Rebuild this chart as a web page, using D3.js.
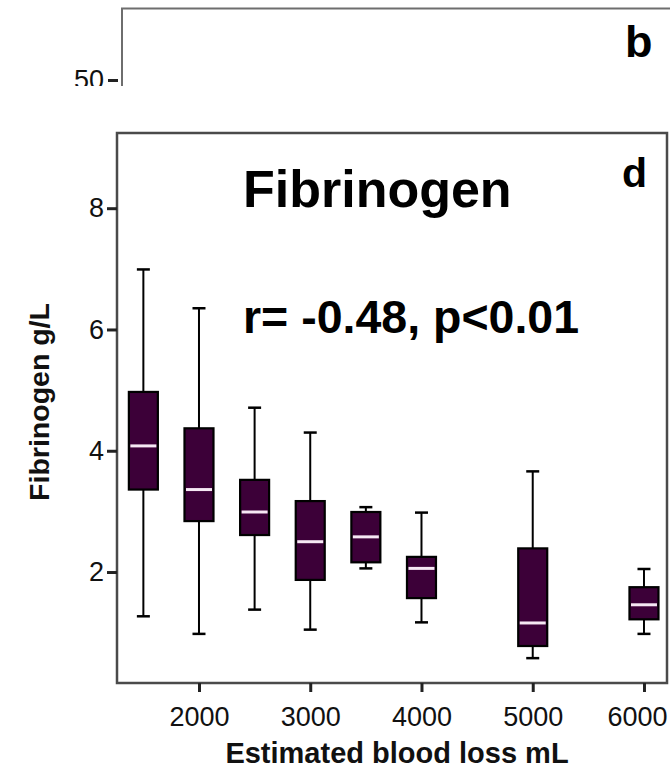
<!DOCTYPE html>
<html>
<head>
<meta charset="utf-8">
<script src="https://cdn.jsdelivr.net/npm/d3@7"></script>
<style>
  html, body { margin: 0; padding: 0; background: #fff; }
  svg { display: block; }
  text { font-family: "Liberation Sans", Arial, Helvetica, sans-serif; }
</style>
</head>
<body>
<svg id="chart" width="670" height="774"></svg>
<script>
// ---- data ----
const categories   = [1500, 2000, 2500, 3000, 3500, 4000, 5000, 6000];
const whiskerLow   = [1.27, 0.98, 1.38, 1.05, 2.06, 1.17, 0.58, 0.98];
const q1           = [3.36, 2.84, 2.61, 1.87, 2.16, 1.57, 0.78, 1.22];
const medians      = [4.08, 3.36, 2.99, 2.50, 2.58, 2.06, 1.16, 1.46];
const q3           = [4.97, 4.37, 3.52, 3.17, 2.99, 2.25, 2.39, 1.75];
const whiskerHigh  = [6.99, 6.35, 4.71, 4.30, 3.07, 2.98, 3.66, 2.05];
const xTicks       = [2000, 3000, 4000, 5000, 6000];
const yTicks       = [2, 4, 6, 8];
const topPanelTick = [50];

const titleText = "Fibrinogen";
const statText  = "r= -0.48, p<0.01";
const xLabel    = "Estimated blood loss mL";
const yLabel    = "Fibrinogen g/L";

// ---- layout ----
const svg = d3.select("#chart");
const L = 117, R = 667, T = 133, B = 683;

const x = d3.scaleLinear().domain([1263, 6207]).range([L, R]);
const y = d3.scaleLinear().domain([0.17, 9.24]).range([B, T]);

// ---- top (cropped) panel b ----
svg.append("clipPath").attr("id", "clipTop")
  .append("rect").attr("x", 0).attr("y", 0).attr("width", 670).attr("height", 86);
const topPanel = svg.append("g").attr("clip-path", "url(#clipTop)");
const yTop = d3.scaleLinear().domain([50, 60]).range([80, -40]);
topPanel.append("path")
  .attr("d", `M122,120 V8.5 H670`)
  .attr("fill", "none").attr("stroke", "#6e6e6e").attr("stroke-width", 2);
const topAxis = topPanel.append("g").attr("transform", "translate(118,0)")
  .call(d3.axisLeft(yTop).tickValues(topPanelTick).tickSize(10).tickPadding(4));
topAxis.select(".domain").remove();
topAxis.selectAll("line").attr("stroke", "#222").attr("stroke-width", 3);
topAxis.selectAll("text").attr("font-size", 27).attr("fill", "#111");
topPanel.append("text").attr("x", 625).attr("y", 57)
  .attr("font-size", 45).attr("font-weight", "bold").attr("fill", "#000").text("b");

// ---- panel d frame ----
svg.append("rect").attr("x", L).attr("y", T).attr("width", R - L).attr("height", B - T)
  .attr("fill", "none").attr("stroke", "#4a4a4a").attr("stroke-width", 2.5);

// axes
const yAxis = svg.append("g").attr("transform", `translate(${L},0)`)
  .call(d3.axisLeft(y).tickValues(yTicks).tickSize(10).tickPadding(3));
yAxis.select(".domain").remove();
yAxis.selectAll("line").attr("stroke", "#222").attr("stroke-width", 3);
yAxis.selectAll("text").attr("font-size", 27).attr("fill", "#111");

const xAxis = svg.append("g").attr("transform", `translate(0,${B})`)
  .call(d3.axisBottom(x).tickValues(xTicks).tickFormat(d3.format("d")).tickSize(9).tickPadding(15));
xAxis.select(".domain").remove();
xAxis.selectAll("line").attr("stroke", "#222").attr("stroke-width", 3);
xAxis.selectAll("text").attr("font-size", 27).attr("fill", "#111");
// last label kept inside the picture, as in the reference
xAxis.selectAll(".tick").filter(d => d === xTicks[xTicks.length - 1])
  .select("text").attr("text-anchor", "end").attr("x", 23);

// ---- boxes ----
const boxW = 29, capW = 13;
const data = categories.map((c, i) => ({
  c, lo: whiskerLow[i], q1: q1[i], med: medians[i], q3: q3[i], hi: whiskerHigh[i]
}));
const g = svg.append("g");
const bx = g.selectAll("g.box").data(data).join("g").attr("class", "box");
bx.append("line")
  .attr("x1", d => x(d.c)).attr("x2", d => x(d.c))
  .attr("y1", d => y(d.hi)).attr("y2", d => y(d.lo))
  .attr("stroke", "#000").attr("stroke-width", 2);
bx.append("line")
  .attr("x1", d => x(d.c) - capW / 2).attr("x2", d => x(d.c) + capW / 2)
  .attr("y1", d => y(d.hi)).attr("y2", d => y(d.hi))
  .attr("stroke", "#000").attr("stroke-width", 2.5);
bx.append("line")
  .attr("x1", d => x(d.c) - capW / 2).attr("x2", d => x(d.c) + capW / 2)
  .attr("y1", d => y(d.lo)).attr("y2", d => y(d.lo))
  .attr("stroke", "#000").attr("stroke-width", 2.5);
bx.append("rect")
  .attr("x", d => x(d.c) - boxW / 2).attr("width", boxW)
  .attr("y", d => y(d.q3)).attr("height", d => y(d.q1) - y(d.q3))
  .attr("fill", "#3c0038").attr("stroke", "#000").attr("stroke-width", 2.2);
bx.append("line")
  .attr("x1", d => x(d.c) - boxW / 2 + 1.5).attr("x2", d => x(d.c) + boxW / 2 - 1.5)
  .attr("y1", d => y(d.med)).attr("y2", d => y(d.med))
  .attr("stroke", "#f6e8f4").attr("stroke-width", 3);

// ---- texts ----
svg.append("text").attr("x", 243).attr("y", 207)
  .attr("font-size", 52).attr("font-weight", "bold").attr("fill", "#000").text(titleText);
svg.append("text").attr("x", 243).attr("y", 333)
  .attr("font-size", 46.5).attr("font-weight", "bold").attr("fill", "#000").text(statText);
svg.append("text").attr("x", 622).attr("y", 187)
  .attr("font-size", 41).attr("font-weight", "bold").attr("fill", "#000").text("d");

svg.append("text").attr("x", 397).attr("y", 763).attr("text-anchor", "middle")
  .attr("font-size", 29).attr("font-weight", "bold").attr("fill", "#111").text(xLabel);
svg.append("text").attr("transform", "translate(49,402) rotate(-90)").attr("text-anchor", "middle")
  .attr("font-size", 28.5).attr("font-weight", "bold").attr("fill", "#111").text(yLabel);
</script>
</body>
</html>
